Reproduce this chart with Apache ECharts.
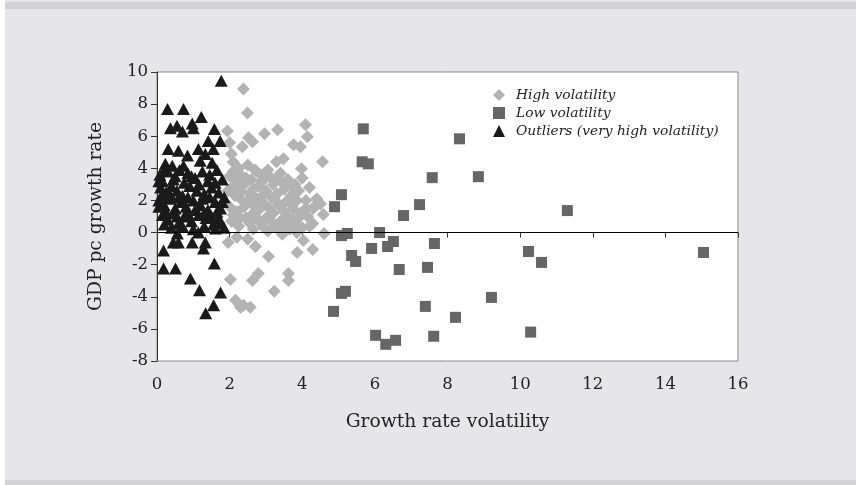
<!DOCTYPE html>
<html><head><meta charset="utf-8">
<script src="https://cdn.jsdelivr.net/npm/echarts@6/dist/echarts.min.js"></script>
<style>html,body{margin:0;padding:0;background:#e6e6e8}#c{width:856px;height:485px}</style>
</head><body><div id="c"></div>
<script>
const seriesNames = ['High volatility', 'Low volatility', 'Outliers (very high volatility)'];
const xTicks = [0, 2, 4, 6, 8, 10, 12, 14, 16];
const yTicks = [-8, -6, -4, -2, 0, 2, 4, 6, 8, 10];

const highVol = [
  [2.38,8.94],[2.49,7.45],[1.94,6.33],[2.96,6.15],[3.32,6.4],[4.09,6.71],[4.14,5.96],[2.52,5.9],[2.63,5.65],[2.35,5.34],
  [3.76,5.47],[3.95,5.34],[4.56,4.41],[3.29,4.41],[3.48,4.6],[3.98,3.98],
  [2.0,5.6],[2.05,4.9],[2.1,4.4],[2.25,4.0],[2.5,4.2],[2.7,3.9],[2.85,3.6],[3.1,3.5],[3.4,3.7],[3.6,3.3],[3.8,3.0],[4.0,3.4],[4.2,2.8],[4.4,2.1],[4.5,1.8],[4.3,1.5],
  [2.0,3.5],[2.2,3.2],[2.4,3.0],[2.6,3.3],[2.8,2.9],[3.0,2.6],[3.2,3.0],[3.3,2.4],[3.5,2.7],[3.7,2.3],[3.9,2.6],[4.1,2.0],
  [1.95,2.6],[2.15,2.3],[2.35,2.0],[2.55,2.4],[2.75,2.1],[2.95,1.8],[3.15,2.2],[3.35,1.7],[3.55,1.9],[3.75,1.5],[3.95,1.2],[4.15,1.0],
  [2.0,1.6],[2.2,1.3],[2.4,1.6],[2.6,1.1],[2.8,1.4],[3.0,0.9],[3.2,1.2],[3.4,0.7],[3.6,1.0],[3.8,0.5],[4.0,0.3],
  [2.05,0.7],[2.25,0.4],[2.45,0.9],[2.65,0.2],[2.85,0.6],[3.05,0.1],[3.25,0.4],[3.45,-0.1],[3.65,0.2],[3.85,0.0],
  [2.1,3.8],[2.3,3.6],[2.45,3.4],[2.65,2.7],[2.9,3.2],[3.05,3.9],[3.25,3.3],[3.45,3.1],[3.7,2.8],[3.85,2.0],
  [2.1,2.9],[2.3,2.6],[2.5,1.9],[2.7,1.6],[2.9,2.3],[3.1,1.5],[3.3,1.9],[3.5,1.3],[3.7,1.8],[3.9,0.9],
  [4.1,1.5],[2.1,1.1],[2.3,0.9],[2.55,0.6],[2.75,0.9],[2.95,0.3],[3.15,0.7],[3.35,0.2],[3.55,0.5],[3.75,0.8],[4.2,0.4],
  [4.6,-0.06],[4.29,0.56],[4.58,1.12],[4.36,1.68],[4.03,-0.5],[3.86,-1.24],[4.29,-1.06],[2.71,-0.87],[3.07,-1.49],[1.96,-0.62],[2.2,-0.3],[2.5,-0.4],
  [3.62,-2.55],[3.62,-2.98],[2.79,-2.55],[2.63,-2.98],[2.02,-2.92],[3.23,-3.66],[2.16,-4.22],[2.38,-4.53],[2.57,-4.66],[2.3,-4.66]
];

const lowVol = [
  [5.68,6.46],[8.33,5.84],[5.65,4.41],[5.82,4.28],[7.58,3.42],[8.85,3.48],[5.08,2.36],[4.89,1.61],[7.23,1.74],[6.79,1.06],
  [11.3,1.37],[5.08,-0.19],[5.24,-0.06],[6.13,0.0],[6.51,-0.56],[6.35,-0.87],[5.91,-0.99],[7.64,-0.68],[5.36,-1.43],[5.47,-1.8],
  [6.67,-2.3],[7.45,-2.17],[10.23,-1.18],[10.59,-1.86],[15.05,-1.24],[5.08,-3.79],[5.19,-3.66],[4.86,-4.91],[7.39,-4.6],[8.22,-5.28],
  [9.21,-4.04],[6.02,-6.4],[6.3,-6.96],[6.57,-6.71],[7.62,-6.46],[10.29,-6.2]
];

const outliers = [
  [1.77,9.45],[0.29,7.7],[0.73,7.7],[1.22,7.2],[0.37,6.5],[0.55,6.65],[0.7,6.3],[0.97,6.8],[1.0,6.5],[1.58,6.45],
  [1.41,5.7],[1.74,5.7],[0.31,5.2],[0.59,5.1],[1.14,5.2],[0.84,4.8],[1.33,4.9],[1.55,5.2],[0.23,4.28],[0.42,4.16],
  [0.73,4.16],[1.19,4.47],[1.52,4.35],
  [0.08,3.6],[0.15,3.2],[0.3,3.8],[0.5,3.5],[0.62,3.9],[0.85,3.7],[1.05,3.4],[1.25,3.8],[1.45,3.6],[1.65,3.9],[1.8,3.3],
  [0.1,2.8],[0.25,2.5],[0.4,2.9],[0.55,2.6],[0.7,2.3],[0.9,2.9],[1.1,2.6],[1.3,2.4],[1.5,2.8],[1.7,2.5],[1.85,2.2],
  [0.05,2.0],[0.2,1.7],[0.35,2.1],[0.5,1.5],[0.65,1.9],[0.8,1.6],[1.0,2.0],[1.2,1.7],[1.4,1.4],[1.6,1.9],[1.75,1.5],
  [0.15,1.1],[0.3,0.8],[0.45,1.2],[0.6,0.6],[0.75,1.0],[0.95,0.7],[1.15,1.1],[1.35,0.9],[1.55,0.5],[1.7,0.9],[1.85,0.3],
  [0.2,3.9],[0.45,3.3],[0.75,3.1],[0.95,3.5],[1.15,3.0],[1.4,3.2],[1.6,3.1],[0.12,2.3],[0.35,2.4],[0.6,2.2],
  [0.85,2.2],[1.25,2.1],[1.45,2.2],[1.8,1.9],[0.25,1.3],[0.55,1.0],[0.85,1.2],[1.05,1.4],[1.3,1.2],[1.5,1.0],
  [1.65,1.3],[0.2,0.5],[0.7,0.4],[1.0,0.2],[1.3,0.4],[1.75,0.6],[0.05,1.6],[0.05,3.2],
  [0.4,0.3],[0.56,-0.06],[1.14,0.0],[1.61,0.25],
  [0.18,-1.12],[0.45,-0.62],[0.59,-0.62],[0.97,-0.62],[1.28,-1.0],[1.33,-0.62],[0.18,-2.24],[0.51,-2.24],[1.58,-1.93],
  [0.92,-2.86],[1.17,-3.6],[1.75,-3.73],[1.56,-4.53],[1.34,-5.03]
];

const FONT = 'DejaVu Serif';
const chart = echarts.init(document.getElementById('c'), null, {renderer: 'canvas'});
chart.setOption({
  backgroundColor: '#e6e6e8',
  animation: false,
  graphic: [
    {type: 'rect', shape: {x: 0, y: 0, width: 5, height: 485}, style: {fill: '#ffffff'}, silent: true},
    {type: 'rect', shape: {x: 5, y: 2, width: 851, height: 7}, style: {fill: '#d1d1d3'}, silent: true},
    {type: 'rect', shape: {x: 5, y: 480, width: 851, height: 5}, style: {fill: '#d3d3d5'}, silent: true}
  ],
  grid: {left: 157, right: 118, top: 72, bottom: 124, show: true, backgroundColor: '#ffffff', borderColor: '#8a8a8a', borderWidth: 1},
  legend: {
    orient: 'vertical', left: 493, top: 88, padding: 0, itemWidth: 12, itemHeight: 12, itemGap: 4,
    textStyle: {fontFamily: FONT, fontStyle: 'italic', fontSize: 13.8, color: '#222', padding: [0, 0, 0, 6]},
    data: [
      {name: seriesNames[0], icon: 'diamond'},
      {name: seriesNames[1], icon: 'rect'},
      {name: seriesNames[2], icon: 'triangle'}
    ]
  },
  xAxis: {
    type: 'value', min: xTicks[0], max: xTicks[xTicks.length - 1], interval: 2,
    name: 'Growth rate volatility', nameLocation: 'middle', nameGap: 52,
    nameTextStyle: {fontFamily: FONT, fontSize: 18.7, color: '#222'},
    axisLine: {show: true, lineStyle: {color: '#333', width: 1}},
    axisTick: {show: true, length: 5, lineStyle: {color: '#333'}},
    axisLabel: {fontFamily: FONT, fontSize: 16.5, color: '#222', margin: 15},
    splitLine: {show: false}
  },
  yAxis: {
    type: 'value', min: yTicks[0], max: yTicks[yTicks.length - 1], interval: 2,
    name: 'GDP pc growth rate', nameLocation: 'middle', nameGap: 51,
    nameTextStyle: {fontFamily: FONT, fontSize: 18.7, color: '#222'},
    axisLine: {show: true, lineStyle: {color: '#333', width: 1}},
    axisTick: {show: true, length: 6, lineStyle: {color: '#333'}},
    axisLabel: {fontFamily: FONT, fontSize: 16.5, color: '#222', margin: 9},
    splitLine: {show: false}
  },
  series: [
    {
      name: seriesNames[0], type: 'scatter', symbol: 'diamond', symbolSize: 13,
      itemStyle: {color: '#b3b3b3', opacity: 1}, data: highVol,
      markLine: {silent: true, symbol: 'none', label: {show: false},
        lineStyle: {color: '#000', width: 1.2, type: 'solid'}, data: [{yAxis: 0}]}
    },
    {
      name: seriesNames[1], type: 'scatter', symbol: 'rect', symbolSize: 11,
      itemStyle: {color: '#666666', opacity: 1}, data: lowVol
    },
    {
      name: seriesNames[2], type: 'scatter', symbol: 'triangle', symbolSize: [13, 12],
      itemStyle: {color: '#1a1a1a', opacity: 1}, data: outliers
    }
  ]
});
</script></body></html>
